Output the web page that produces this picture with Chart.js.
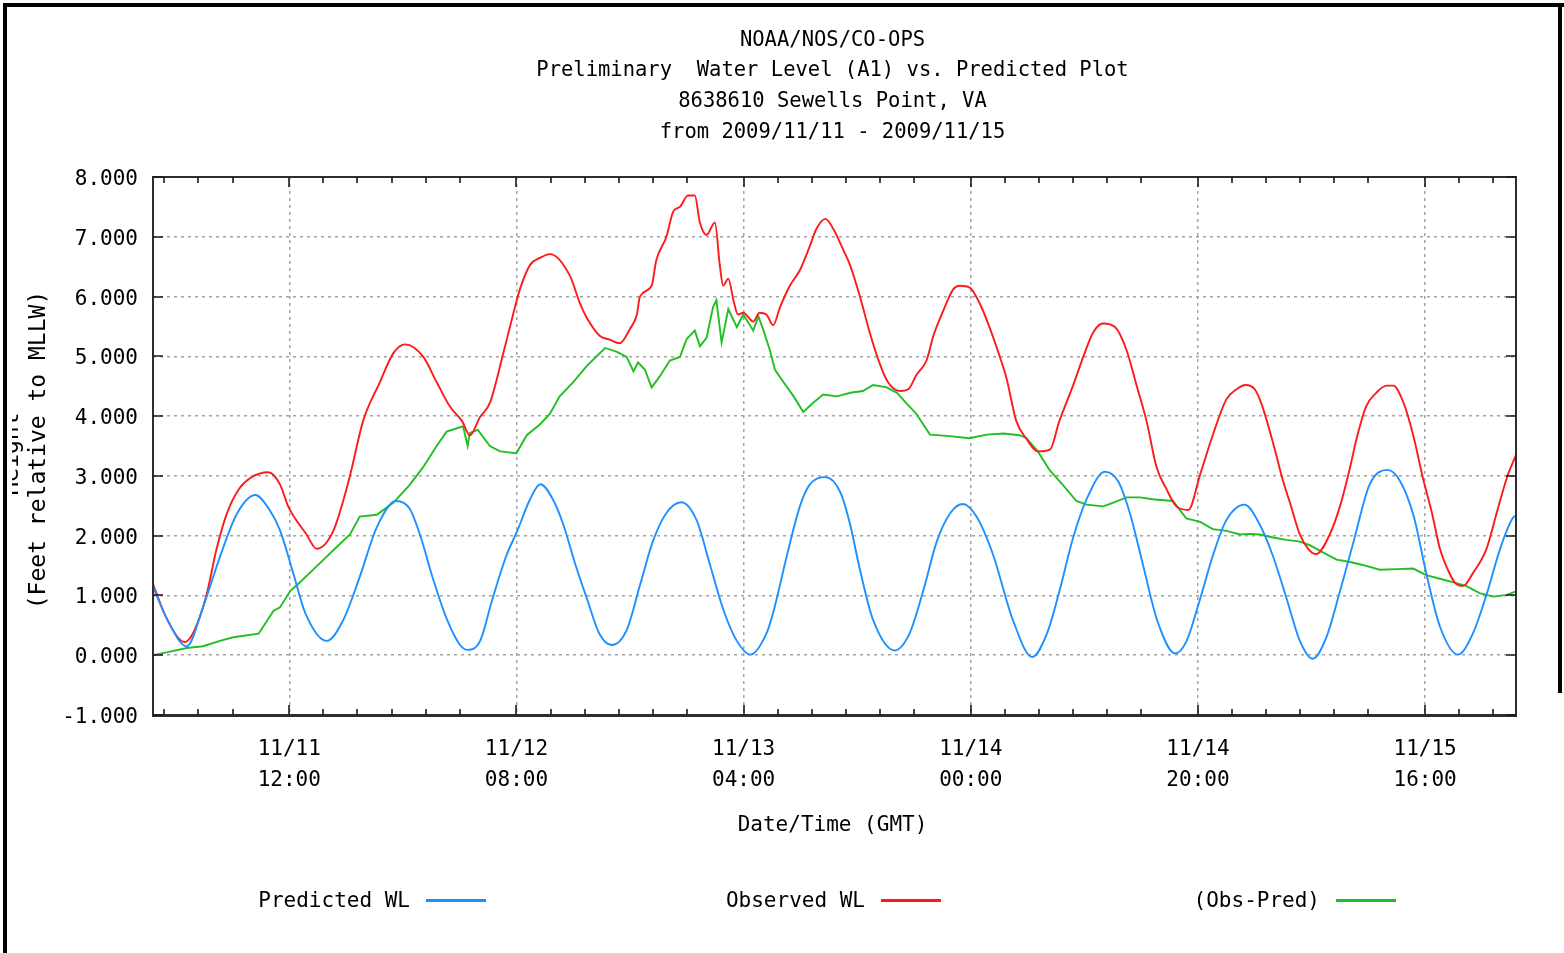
<!DOCTYPE html>
<html>
<head>
<meta charset="utf-8">
<title>Sewells Point water level</title>
<script src="https://cdn.jsdelivr.net/npm/chart.js@4.4.1/dist/chart.umd.min.js"></script>
<style>
  html, body { margin: 0; padding: 0; background: #ffffff; }
  canvas { display: block; }
</style>
</head>
<body>
<canvas id="plot" width="1564" height="953"></canvas>
<script>
// ---- Plot text ----
const titleLines = [
  'NOAA/NOS/CO-OPS',
  'Preliminary  Water Level (A1) vs. Predicted Plot',
  '8638610 Sewells Point, VA',
  'from 2009/11/11 - 2009/11/15'
];
const yTitleLines = ['Height', '(Feet relative to MLLW)'];
const xTitle = 'Date/Time (GMT)';

// ---- Axis ticks (hours since 2009/11/11 00:00 GMT) ----
const xTickHours = [12, 32, 52, 72, 92, 112];
const xTickLabels = [
  ['11/11', '12:00'], ['11/12', '08:00'], ['11/13', '04:00'],
  ['11/14', '00:00'], ['11/14', '20:00'], ['11/15', '16:00']
];
const minorTickHours = [1, 4, 7, 15, 18, 21, 24, 27, 35, 38, 41, 44, 47, 55, 58, 61, 64, 67,
  75, 78, 81, 84, 87, 95, 98, 101, 104, 107, 115, 118];

// ---- Predicted water level (ft) ----
const predHours = [0, 1.2, 2.97, 4.4, 5.9, 7.4, 9.0, 10.2, 11.2, 12.35, 13.4, 15.3, 16.75, 18.2, 19.7,
  21.4, 22.6, 23.5, 24.7, 25.9, 27.0, 27.7, 28.8, 29.9, 31.1, 32.07, 33.2, 34.1, 35.2, 36.1, 37.15,
  38.2, 39.3, 40.4, 41.7, 42.9, 44.0, 45.2, 46.5, 47.86, 49.0, 50.2, 51.4, 52.6, 54.0, 54.6, 55.8,
  56.95, 57.8, 59.2, 60.5, 61.36, 62.24, 63.4, 65.3, 66.6, 67.8, 69.0, 70.2, 71.3, 72.5, 74.0, 75.1,
  75.7, 77.4, 78.7, 79.8, 81.0, 82.2, 83.8, 84.97, 86.0, 87.2, 88.4, 90.0, 91.0, 92.2, 93.3, 94.5,
  96.1, 97.4, 98.6, 99.8, 100.97, 102.1, 103.3, 104.5, 105.7, 107.1, 108.7, 109.8, 111.0, 112.1,
  113.3, 114.9, 116.2, 117.4, 118.6, 119.7, 120];
const predFeet = [1.15, 0.62, 0.15, 0.8, 1.65, 2.37, 2.68, 2.45, 2.08, 1.37, 0.71, 0.24, 0.59, 1.31, 2.14,
  2.58, 2.45, 2.02, 1.25, 0.59, 0.18, 0.09, 0.24, 0.95, 1.66, 2.08, 2.61, 2.86, 2.61, 2.2, 1.54,
  0.95, 0.36, 0.17, 0.42, 1.19, 1.9, 2.38, 2.56, 2.26, 1.54, 0.77, 0.24, 0.01, 0.36, 0.71, 1.66,
  2.49, 2.85, 2.98, 2.73, 2.2, 1.43, 0.59, 0.08, 0.36, 1.07, 1.9, 2.38, 2.53, 2.32, 1.66, 0.95,
  0.59, -0.03, 0.36, 1.07, 1.96, 2.61, 3.07, 2.91, 2.38, 1.48, 0.59, 0.03, 0.24, 0.95, 1.66, 2.26,
  2.52, 2.2, 1.66, 0.95, 0.24, -0.06, 0.3, 1.07, 1.9, 2.85, 3.1, 2.91, 2.32, 1.37,
  0.48, 0.01, 0.36, 1.01, 1.78, 2.29, 2.34];

// ---- Observed water level (ft) ----
const obsHours = [0, 1.24, 2.8, 3.6, 4.7, 5.6, 6.5, 7.6, 8.6, 10.15, 11.2, 11.9, 13.52, 14.4, 15.87,
  17.3, 18.5, 19.98, 21.15, 22.2, 23.8, 24.97, 26.14, 27.2, 27.9, 28.78, 29.66, 30.84, 31.7, 32.3,
  33.2, 34.1, 34.95, 36.7, 37.6, 38.2, 39.35, 40.2, 41.1, 42.0, 42.6, 42.87, 43.9, 44.3, 45.2, 45.8,
  46.39, 47.1, 47.7, 48.15, 48.74, 49.47, 49.9, 50.2, 50.65, 51.1, 51.5, 51.97, 52.85, 53.4, 54.0,
  54.6, 55.2, 56.07, 56.95, 57.8, 58.4, 59.2, 59.9, 60.8, 61.36, 62.24, 63.1, 64.0, 64.7, 65.76,
  66.5, 67.22, 68.1, 68.7, 69.57, 70.45, 71.03, 71.9, 72.8, 73.7, 74.56, 75.15, 76.0, 76.9, 77.9,
  78.96, 79.8, 81.0, 81.9, 82.77, 83.65, 84.7, 85.7, 86.6, 87.47, 88.35, 89.2, 90.1, 91.15, 92.2,
  93.3, 94.5, 95.4, 96.2, 97.0, 97.6, 98.6, 99.5, 100.1, 100.97, 101.7, 102.4, 103.6, 104.5, 105.4,
  105.96, 106.8, 107.7, 108.6, 109.2, 110.1, 110.95, 111.8, 112.6, 113.3, 114.0, 114.6, 115.35,
  116.2, 117.4, 118.3, 119.2, 120];
const obsFeet = [1.19, 0.6, 0.22, 0.4, 1.0, 1.78, 2.37, 2.79, 2.97, 3.06, 2.85, 2.49, 2.02, 1.78, 2.08,
  2.97, 3.92, 4.57, 5.05, 5.2, 4.99, 4.57, 4.16, 3.92, 3.68, 3.98, 4.22, 5.05, 5.7, 6.12,
  6.53, 6.65, 6.71, 6.35, 5.88, 5.64, 5.34, 5.28, 5.22, 5.46, 5.7, 6.0, 6.18, 6.6, 7.0, 7.42,
  7.5, 7.69, 7.69, 7.24, 7.03, 7.24, 6.53, 6.18, 6.3, 5.94, 5.7, 5.73, 5.58, 5.73, 5.7,
  5.52, 5.82, 6.18, 6.44, 6.83, 7.13, 7.3, 7.13, 6.77, 6.53, 6.0, 5.4, 4.87, 4.57, 4.42,
  4.45, 4.69, 4.93, 5.34, 5.76, 6.12, 6.18, 6.15, 5.88, 5.46, 4.99, 4.63, 3.92, 3.62, 3.41,
  3.44, 3.92, 4.51, 4.99, 5.4, 5.55, 5.49, 5.11, 4.51, 3.92, 3.15, 2.79, 2.49, 2.43, 3.03,
  3.68, 4.28, 4.45, 4.52, 4.45, 4.2, 3.56, 2.91, 2.55, 2.02, 1.78, 1.69, 2.02, 2.49, 3.15,
  3.62, 4.16, 4.39, 4.51, 4.51, 4.22, 3.68, 2.97, 2.38, 1.78, 1.43, 1.22, 1.16,
  1.37, 1.78, 2.38, 2.97, 3.35];

// ---- Observed minus predicted (ft) ----
const diffHours = [0, 1.5, 2.97, 4.4, 5.9, 7.07, 9.3, 10.6, 11.18, 12.06, 12.94, 14.7, 16.17, 17.34,
  18.2, 19.7, 21.15, 22.6, 23.8, 24.97, 25.85, 27.3, 27.7, 27.9, 28.6, 29.66, 30.55, 32.0, 32.9,
  34.06, 34.95, 35.8, 37.0, 38.2, 39.8, 40.8, 41.7, 42.3, 42.7, 43.3, 43.9, 44.6, 45.5, 46.4,
  46.98, 47.7, 48.15, 48.74, 49.3, 49.6, 50.06, 50.65, 51.4, 51.97, 52.85, 53.3, 53.7, 54.3, 54.75,
  55.5, 56.4, 57.25, 58.1, 59.0, 60.2, 61.4, 62.5, 63.4, 64.6, 65.5, 66.3, 67.2, 68.4, 69.9, 71.9,
  73.4, 74.9, 76.3, 76.9, 77.9, 78.96, 80.1, 81.3, 82.2, 83.65, 84.5, 85.7, 86.9, 88.0, 89.8, 90.97,
  92.2, 93.3, 94.5, 95.7, 96.6, 97.45, 98.6, 99.8, 100.97, 101.85, 103.0, 104.2, 105.4, 106.5,
  108.0, 109.5, 110.95, 112.1, 113.3, 114.5, 115.6, 116.8, 118.0, 119.2, 120];
const diffFeet = [0.0, 0.06, 0.12, 0.15, 0.24, 0.3, 0.36, 0.74, 0.8, 1.07, 1.22, 1.54, 1.81, 2.02,
  2.32, 2.35, 2.55, 2.85, 3.15, 3.5, 3.74, 3.83, 3.5, 3.72, 3.77, 3.5, 3.41, 3.38, 3.68,
  3.86, 4.04, 4.33, 4.57, 4.84, 5.14, 5.08, 4.99, 4.75, 4.9, 4.78, 4.48, 4.66, 4.93, 4.99,
  5.29, 5.43, 5.17, 5.31, 5.82, 5.94, 5.23, 5.79, 5.49, 5.7, 5.43, 5.67, 5.46, 5.11, 4.78,
  4.57, 4.33, 4.07, 4.22, 4.36, 4.33, 4.39, 4.42, 4.52, 4.48, 4.39, 4.22, 4.04, 3.69, 3.67, 3.63,
  3.69, 3.71, 3.68, 3.63, 3.41, 3.09, 2.85, 2.58, 2.52, 2.49, 2.55, 2.64, 2.64, 2.61, 2.58, 2.29,
  2.23, 2.11, 2.08, 2.02, 2.03, 2.02, 1.97, 1.93, 1.9, 1.84, 1.72, 1.6, 1.56, 1.51,
  1.43, 1.44, 1.45, 1.34, 1.28, 1.22, 1.16, 1.04, 0.98, 1.01, 1.07];

const seriesNames = ['Predicted WL', 'Observed WL', '(Obs-Pred)'];
const seriesColors = ['#1e90ff', '#ff1a1a', '#22bf22'];

const pairs = (hs, vs) => hs.map((h, i) => ({ x: h, y: vs[i] }));

const FONT = "'DejaVu Sans Mono', 'Liberation Mono', monospace";
Chart.defaults.font.family = FONT;
Chart.defaults.color = '#000000';

// Frame, inward ticks, titles, legend and page border
const decor = {
  id: 'decor',
  afterDraw(chart) {
    const { ctx, chartArea: a, scales } = chart;
    const xs = scales.x, ys = scales.y;
    ctx.save();

    // plot frame
    ctx.strokeStyle = '#2e2e2e';
    ctx.lineWidth = 2;
    ctx.strokeRect(a.left, a.top, a.right - a.left, a.bottom - a.top);
    ctx.lineWidth = 3;
    ctx.beginPath();
    ctx.moveTo(a.left - 1, a.bottom + 0.5);
    ctx.lineTo(a.right + 1, a.bottom + 0.5);
    ctx.stroke();

    // inward tick marks, mirrored on the top and right edges
    ctx.lineWidth = 1.6;
    ctx.strokeStyle = '#1a1a1a';
    ctx.beginPath();
    xTickHours.forEach(h => {
      const px = Math.round(xs.getPixelForValue(h));
      ctx.moveTo(px, a.bottom); ctx.lineTo(px, a.bottom - 10);
      ctx.moveTo(px, a.top); ctx.lineTo(px, a.top + 10);
    });
    minorTickHours.forEach(h => {
      const px = Math.round(xs.getPixelForValue(h));
      ctx.moveTo(px, a.bottom); ctx.lineTo(px, a.bottom - 6);
      ctx.moveTo(px, a.top); ctx.lineTo(px, a.top + 6);
    });
    ys.ticks.forEach(t => {
      const py = Math.round(ys.getPixelForValue(t.value));
      ctx.moveTo(a.left, py); ctx.lineTo(a.left + 10, py);
      ctx.moveTo(a.right, py); ctx.lineTo(a.right - 10, py);
    });
    ctx.stroke();

    ctx.fillStyle = '#000000';
    ctx.textBaseline = 'middle';
    const midX = (a.left + a.right) / 2 - 2;

    // chart title
    ctx.font = '20.5px ' + FONT;
    ctx.textAlign = 'center';
    titleLines.forEach((line, i) => ctx.fillText(line, midX, 40.5 + i * 30.6));

    // x-axis title
    ctx.font = '21px ' + FONT;
    ctx.fillText(xTitle, midX, 825.5);

    // y-axis title (two rotated lines, the outer one clipped at the page edge)
    const midY = 450;
    ctx.font = '23px ' + FONT;
    ctx.save();
    ctx.translate(39, midY);
    ctx.rotate(-Math.PI / 2);
    ctx.fillText(yTitleLines[1], 0, 0);
    ctx.restore();
    ctx.save();
    ctx.beginPath();
    ctx.rect(12, 0, 20, chart.height);
    ctx.clip();
    ctx.translate(18, midY + 4);
    ctx.rotate(-Math.PI / 2);
    ctx.textBaseline = 'alphabetic';
    ctx.fillText(yTitleLines[0], 0, 0);
    ctx.restore();

    // legend: label followed by a line sample
    const legendRight = [410, 865, 1320];
    const legendY = 902;
    ctx.font = '21px ' + FONT;
    ctx.textAlign = 'right';
    chart.data.datasets.forEach((ds, i) => {
      ctx.fillStyle = '#000000';
      ctx.fillText(ds.label, legendRight[i], legendY);
      ctx.fillStyle = ds.borderColor;
      ctx.fillRect(legendRight[i] + 16, legendY - 3, 60, 3);
    });

    // black page border
    ctx.fillStyle = '#000000';
    ctx.fillRect(3, 3, 4, chart.height - 3);
    ctx.fillRect(3, 3, chart.width - 3, 4);
    ctx.fillRect(chart.width - 6, 3, 4, 690);

    ctx.restore();
  }
};

new Chart(document.getElementById('plot'), {
  type: 'line',
  data: {
    datasets: [
      { label: seriesNames[0], data: pairs(predHours, predFeet), borderColor: seriesColors[0],
        cubicInterpolationMode: 'monotone' },
      { label: seriesNames[1], data: pairs(obsHours, obsFeet), borderColor: seriesColors[1],
        cubicInterpolationMode: 'monotone' },
      { label: seriesNames[2], data: pairs(diffHours, diffFeet), borderColor: seriesColors[2],
        tension: 0 }
    ]
  },
  options: {
    responsive: false,
    animation: false,
    devicePixelRatio: 1,
    layout: { padding: { top: 177, right: 48, bottom: 0, left: 0 } },
    elements: {
      point: { radius: 0, hoverRadius: 0 },
      line: { borderWidth: 1.9, fill: false }
    },
    plugins: {
      legend: { display: false },
      title: { display: false },
      tooltip: { enabled: false }
    },
    scales: {
      x: {
        type: 'linear',
        min: 0,
        max: 120,
        afterBuildTicks: s => { s.ticks = xTickHours.map(v => ({ value: v })); },
        afterFit: s => { s.height = 238; },
        ticks: {
          autoSkip: false,
          maxRotation: 0,
          padding: 19,
          font: { size: 21, lineHeight: 1.48 },
          callback: (v, i) => xTickLabels[i]
        },
        grid: { color: '#a3a3a3', lineWidth: 1.5, drawTicks: false },
        border: { display: false, dash: [3, 4] }
      },
      y: {
        min: -1,
        max: 8,
        afterFit: s => { s.width = 153; },
        ticks: {
          stepSize: 1,
          padding: 15,
          labelOffset: 2.5,
          font: { size: 21 },
          callback: v => Number(v).toFixed(3)
        },
        grid: { color: '#a3a3a3', lineWidth: 1.5, drawTicks: false },
        border: { display: false, dash: [3, 4] }
      }
    }
  },
  plugins: [decor]
});
</script>
</body>
</html>
